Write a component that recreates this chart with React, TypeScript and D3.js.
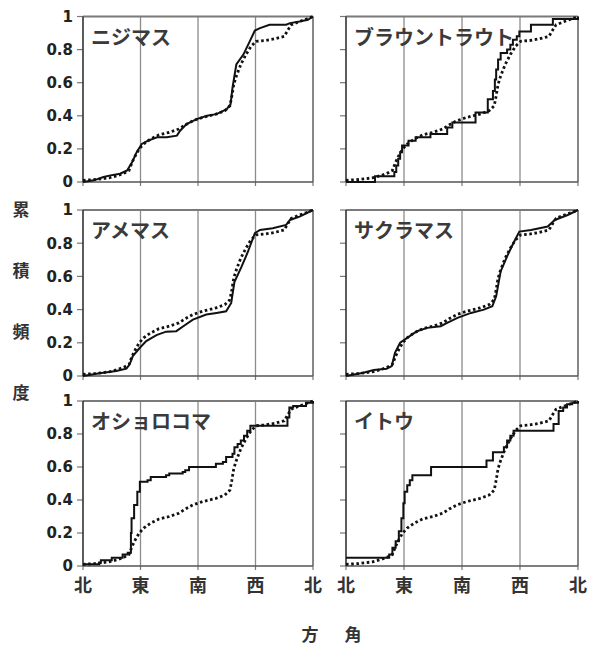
import React from "react";
import * as d3 from "d3";

type Pt = [number, number];

const speciesNames = ["ニジマス", "ブラウントラウト", "アメマス", "サクラマス", "オショロコマ", "イトウ"];
const dirLabels = ["北", "東", "南", "西", "北"];
const dirAngles = [0, 90, 180, 270, 360];
const yTicks = [0, 0.2, 0.4, 0.6, 0.8, 1];
const yAxisTitle = ["累", "積", "頻", "度"];
const xAxisTitle = ["方", "角"];

// dotted reference curve (angle in degrees, cumulative frequency)
const referenceCurve: Pt[] = [
  [0, 0.01], [20, 0.015], [41, 0.025], [55, 0.04], [65, 0.055], [72, 0.07], [77, 0.12],
  [82, 0.16], [88, 0.2], [95, 0.23], [106, 0.26], [119, 0.285], [135, 0.3], [150, 0.32],
  [160, 0.345], [172, 0.37], [187, 0.39], [208, 0.41], [222, 0.43], [230, 0.46], [233, 0.52],
  [236, 0.59], [240, 0.64], [247, 0.71], [255, 0.77], [263, 0.82], [271, 0.85], [285, 0.855],
  [300, 0.865], [315, 0.88], [321, 0.92], [326, 0.95], [339, 0.97], [350, 0.985], [360, 1],
];

const nijimasu: Pt[] = [
  [0, 0], [17, 0.01], [32, 0.03], [43, 0.04], [58, 0.05], [69, 0.07], [77, 0.12], [84, 0.18],
  [92, 0.23], [102, 0.25], [116, 0.27], [131, 0.27], [147, 0.28], [152, 0.31], [162, 0.35],
  [178, 0.38], [194, 0.4], [209, 0.41], [225, 0.44], [231, 0.47], [234, 0.57], [240, 0.71],
  [251, 0.77], [261, 0.85], [269, 0.915], [277, 0.93], [292, 0.95], [318, 0.95], [324, 0.96],
  [339, 0.97], [352, 0.98], [360, 1],
];

const brownTrout: Pt[] = [
  [0, 0], [45, 0.035], [75, 0.06], [78, 0.1], [81, 0.14], [84, 0.18], [87, 0.22], [97, 0.25],
  [108, 0.27], [131, 0.29], [157, 0.33], [165, 0.36], [201, 0.42], [220, 0.5], [228, 0.55],
  [231, 0.62], [233, 0.68], [236, 0.74], [240, 0.78], [250, 0.8], [255, 0.83], [259, 0.86],
  [265, 0.88], [269, 0.91], [287, 0.95], [321, 0.985], [360, 1],
];

const amemasu: Pt[] = [
  [0, 0], [26, 0.016], [52, 0.03], [68, 0.044], [73, 0.07], [78, 0.12], [89, 0.17], [99, 0.21],
  [115, 0.246], [130, 0.267], [146, 0.27], [157, 0.3], [172, 0.34], [193, 0.37], [209, 0.38],
  [224, 0.39], [232, 0.44], [237, 0.566], [248, 0.657], [258, 0.747], [269, 0.86], [277, 0.88],
  [297, 0.89], [318, 0.91], [324, 0.94], [339, 0.96], [360, 1],
];

const sakuramasu: Pt[] = [
  [0, 0], [27, 0.02], [43, 0.036], [63, 0.044], [71, 0.06], [76, 0.14], [84, 0.2], [95, 0.23],
  [110, 0.27], [126, 0.29], [147, 0.3], [157, 0.32], [173, 0.35], [194, 0.38], [214, 0.4],
  [227, 0.42], [233, 0.48], [240, 0.63], [251, 0.73], [261, 0.81], [269, 0.87], [287, 0.88],
  [313, 0.9], [324, 0.94], [344, 0.97], [360, 1],
];

const oshorokoma: Pt[] = [
  [0, 0.01], [25, 0.02], [28, 0.035], [45, 0.05], [62, 0.07], [70, 0.08], [75, 0.2], [76, 0.29],
  [80, 0.37], [85, 0.45], [89, 0.51], [101, 0.52], [106, 0.54], [130, 0.55], [135, 0.56],
  [156, 0.57], [160, 0.58], [166, 0.6], [203, 0.6], [208, 0.62], [219, 0.63], [224, 0.66],
  [234, 0.68], [237, 0.72], [242, 0.74], [247, 0.76], [252, 0.79], [257, 0.82], [262, 0.85],
  [318, 0.85], [320, 0.9], [323, 0.96], [329, 0.97], [349, 0.99], [360, 1],
];

const itou: Pt[] = [
  [0, 0.05], [67, 0.07], [72, 0.11], [77, 0.15], [82, 0.21], [86, 0.29], [89, 0.38], [91, 0.45],
  [95, 0.49], [99, 0.52], [103, 0.55], [132, 0.6], [218, 0.64], [228, 0.69], [245, 0.72],
  [250, 0.76], [255, 0.79], [260, 0.82], [322, 0.86], [330, 0.94], [337, 0.96], [343, 0.98],
  [351, 0.99], [360, 1],
];

const speciesData: Pt[][] = [nijimasu, brownTrout, amemasu, sakuramasu, oshorokoma, itou];
const speciesStepped = [false, true, false, false, true, true];

const colX: [number, number][] = [[83, 313], [346, 578]];
const rowY: [number, number][] = [[16.5, 182], [210, 376], [401, 566]];

const tickFmt = d3.format("~g");

function Panel({ idx }: { idx: number }) {
  const col = idx % 2;
  const row = Math.floor(idx / 2);
  const [x0, x1] = colX[col];
  const [y0, y1] = rowY[row];
  const x = d3.scaleLinear().domain([0, 360]).range([x0, x1]);
  const y = d3.scaleLinear().domain([0, 1]).range([y1, y0]);
  const solidGen = d3
    .line<Pt>()
    .x((d) => x(d[0]))
    .y((d) => y(d[1]))
    .curve(speciesStepped[idx] ? d3.curveStepAfter : d3.curveLinear);
  const dotGen = d3
    .line<Pt>()
    .x((d) => x(d[0]))
    .y((d) => y(d[1]));
  return (
    <g>
      {dirAngles.slice(1, 4).map((a) => (
        <line key={"g" + a} x1={x(a)} x2={x(a)} y1={y0} y2={y1} stroke="#8c8c8c" strokeWidth={1.3} />
      ))}
      <line x1={x0} x2={x1} y1={y0} y2={y0} stroke="#7a7a7a" strokeWidth={1.8} />
      <line x1={x1} x2={x1} y1={y0} y2={y1} stroke="#7a7a7a" strokeWidth={1.8} />
      {yTicks.map((t) => (
        <line key={"yt" + t} x1={x0 - 6} x2={x0} y1={y(t)} y2={y(t)} stroke="#777" strokeWidth={1.2} />
      ))}
      {dirAngles.map((a, i) => (
        <line key={"xt" + i} x1={x(a)} x2={x(a)} y1={y1} y2={y1 + 4} stroke="#777" strokeWidth={1.2} />
      ))}
      <line x1={x0} x2={x0} y1={y0} y2={y1} stroke="#333" strokeWidth={1.6} />
      <line x1={x0} x2={x1} y1={y1} y2={y1} stroke="#555" strokeWidth={1.6} />
      {col === 0 &&
        yTicks.map((t) => (
          <text
            key={"yl" + t}
            x={x0 - 10}
            y={y(t)}
            dy="0.36em"
            textAnchor="end"
            fontFamily="'DejaVu Sans', sans-serif"
            fontWeight="bold"
            fontSize={15}
            fill="#222"
          >
            {tickFmt(t)}
          </text>
        ))}
      {row === 2 &&
        dirAngles.map((a, i) => (
          <text
            key={"xl" + i}
            x={x(a)}
            y={y1 + 26}
            textAnchor="middle"
            fontFamily="'Noto Sans CJK JP', sans-serif"
            fontSize={18}
            fontWeight={700}
            fill="#333"
          >
            {dirLabels[i]}
          </text>
        ))}
      <path d={dotGen(referenceCurve) || ""} fill="none" stroke="#111" strokeWidth={2.8} strokeDasharray="2.6,2.6" />
      <path d={solidGen(speciesData[idx]) || ""} fill="none" stroke="#111" strokeWidth={2} />
      <text
        x={x0 + 8}
        y={y0 + 28}
        fontFamily="'Noto Sans CJK JP', sans-serif"
        fontSize={20}
        fontWeight={700}
        fill="#3a3a3a"
      >
        {speciesNames[idx]}
      </text>
    </g>
  );
}

export default function App() {
  return (
    <svg
      width={597}
      height={648}
      viewBox="0 0 597 648"
      style={{ position: "absolute", left: 0, top: 0, background: "#fff" }}
    >
      <rect x={0} y={0} width={597} height={648} fill="#fff" />
      {speciesNames.map((_, i) => (
        <Panel key={i} idx={i} />
      ))}
      <text fontFamily="'Noto Sans CJK JP', sans-serif" fontSize={17} fontWeight={700} fill="#333" textAnchor="middle">
        {yAxisTitle.map((c, i) => (
          <tspan key={c} x={21} y={216 + i * 61}>
            {c}
          </tspan>
        ))}
      </text>
      <text fontFamily="'Noto Sans CJK JP', sans-serif" fontSize={17} fontWeight={700} fill="#333" textAnchor="middle">
        {xAxisTitle.map((c, i) => (
          <tspan key={c} x={310 + i * 43} y={641}>
            {c}
          </tspan>
        ))}
      </text>
    </svg>
  );
}
